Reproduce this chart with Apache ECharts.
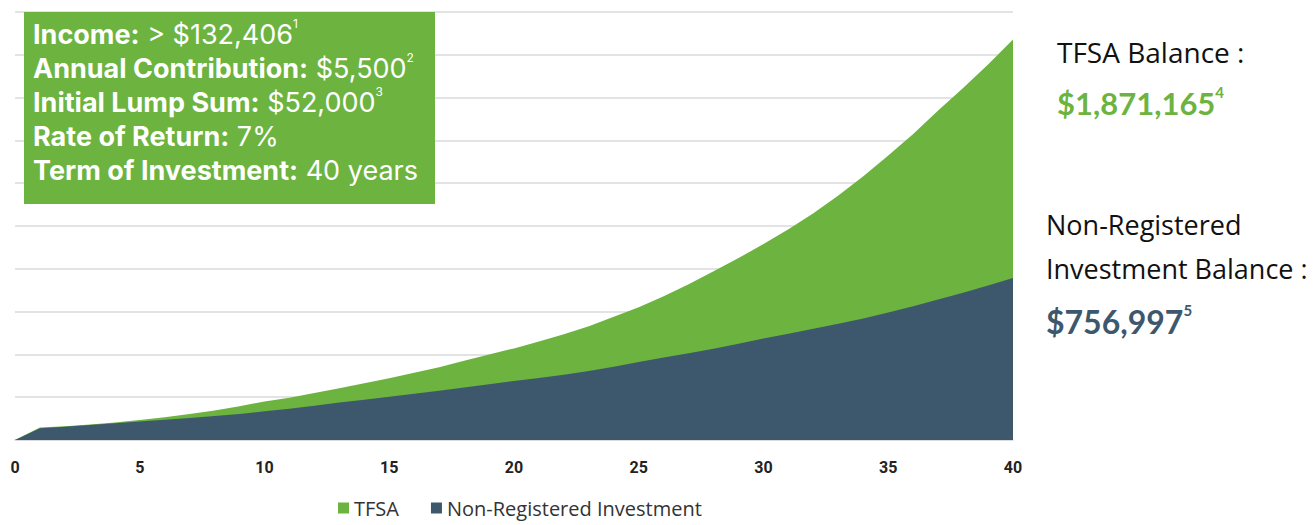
<!DOCTYPE html>
<html><head><meta charset="utf-8">
<script src="https://cdn.jsdelivr.net/npm/echarts@6/dist/echarts.min.js"></script>
<style>html,body{margin:0;padding:0;background:#fff}#c{width:1316px;height:525px}</style>
</head><body><div id="c"></div>
<script>
const years = [0,1,2,3,4,5,6,7,8,9,10,11,12,13,14,15,16,17,18,19,20,21,22,23,24,25,26,27,28,29,30,31,32,33,34,35,36,37,38,39,40];
const tfsa = [0,58000,64000,72000,82000,94000,106000,122000,138000,158000,180000,198000,220000,242000,265000,288000,314000,340000,370000,400000,428000,460000,494000,532000,576000,620000,672000,728000,788000,850000,916000,985000,1060000,1143000,1232000,1330000,1430000,1540000,1645000,1755000,1871165];
const nonReg = [0,55000,62000,70000,78000,87000,95000,103000,112000,122000,134000,146000,160000,175000,188000,202000,216000,230000,245000,261000,276000,290000,305000,322000,342000,364000,386000,405000,426000,450000,474000,497000,520000,543000,568000,596000,625000,656000,688000,722000,756997];
const xTicks = [0,5,10,15,20,25,30,35,40];
const seriesNames = ['TFSA','Non-Registered Investment'];
const GREEN = '#6cb33f', NAVY = '#3d586c';
const FONT = 'Open Sans';
const BOXFONT = 'Inter';

const chart = echarts.init(document.getElementById('c'), null, {renderer:'svg'});
chart.setOption({
  animation:false,
  grid:{left:15,right:303,top:12,bottom:85,containLabel:false},
  xAxis:{type:'value',min:0,max:40,interval:5,
    axisLine:{show:true,lineStyle:{color:'#d9d9d9',width:1.5}},
    axisTick:{show:false},splitLine:{show:false},
    axisLabel:{color:'#222',fontWeight:'bold',fontSize:16,fontFamily:'Roboto',margin:19,
      formatter:v=>xTicks.includes(v)?String(v):''}},
  yAxis:{type:'value',min:0,max:2000000,interval:200000,
    axisLabel:{show:false},axisLine:{show:false},axisTick:{show:false},
    splitLine:{lineStyle:{color:'#dadada',width:1.5}}},
  legend:{bottom:2,left:333,itemWidth:11,itemHeight:11,itemGap:32,icon:'rect',
    textStyle:{fontFamily:FONT,fontSize:20,color:'#333'},data:seriesNames},
  series:[
    {name:seriesNames[0],type:'line',data:years.map((y,i)=>[y,tfsa[i]]),showSymbol:false,
      lineStyle:{width:0},itemStyle:{color:GREEN},areaStyle:{color:GREEN,opacity:1}},
    {name:seriesNames[1],type:'line',data:years.map((y,i)=>[y,nonReg[i]]),showSymbol:false,
      lineStyle:{width:0},itemStyle:{color:NAVY},areaStyle:{color:NAVY,opacity:1}}
  ],
  graphic:[
    {type:'rect',z:100,shape:{x:24,y:12,width:411,height:192},style:{fill:GREEN}},
    {type:'text',z:101,left:33,top:17,style:{
      text:'{b|Income:} > $132,406{s|1}\n{b|Annual Contribution:} $5,500{s|2}\n{b|Initial Lump Sum:} $52,000{s|3}\n{b|Rate of Return:} 7%\n{b|Term of Investment:} 40 years',
      fill:'#fff',font:'27px Inter',lineHeight:34,
      rich:{b:{fontWeight:'bold',fontSize:27,fontFamily:BOXFONT,fill:'#fff',lineHeight:34},
            s:{fontSize:12,fontFamily:BOXFONT,fill:'#fff',verticalAlign:'top',lineHeight:20}}}},
    {type:'text',z:101,left:1057,top:38,style:{text:'TFSA Balance :',fill:'#111',font:'28px "Open Sans"'}},
    {type:'text',z:101,left:1057,top:84,style:{text:'$1,871,165{s|4}',fill:GREEN,font:'bold 31px Lato',lineHeight:38,
      rich:{s:{fontSize:15,fontWeight:'bold',fontFamily:'Lato',fill:GREEN,verticalAlign:'top',lineHeight:24}}}},
    {type:'text',z:101,left:1046,top:211,style:{text:'Non-Registered',fill:'#111',font:'27px "Open Sans"'}},
    {type:'text',z:101,left:1046,top:255,style:{text:'Investment Balance :',fill:'#111',font:'27px "Open Sans"'}},
    {type:'text',z:101,left:1046,top:302,style:{text:'$756,997{s|5}',fill:NAVY,font:'bold 32px Lato',lineHeight:38,
      rich:{s:{fontSize:15,fontWeight:'bold',fontFamily:'Lato',fill:NAVY,verticalAlign:'top',lineHeight:24}}}}
  ]
});
</script></body></html>
